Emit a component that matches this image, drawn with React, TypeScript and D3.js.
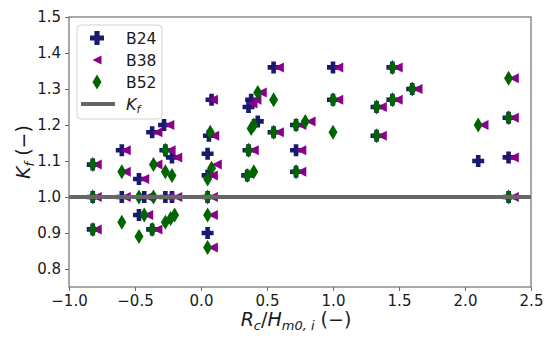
// @ts-nocheck
import React, { useEffect, useRef } from "react";
import * as d3 from "d3";

// B24 (navy filled plus)
const b24X = [-0.82, -0.82, -0.82, -0.6, -0.6, -0.47, -0.47, -0.43, -0.37, -0.37, -0.28, -0.27, -0.27, -0.22, -0.22, 0.05, 0.05, 0.05, 0.05, 0.06, 0.08, 0.35, 0.36, 0.36, 0.38, 0.43, 0.55, 0.55, 0.72, 0.72, 0.72, 1.0, 1.0, 1.33, 1.33, 1.45, 1.45, 1.6, 2.1, 2.33, 2.33, 2.33];
const b24Y = [1.09, 1.0, 0.91, 1.13, 1.0, 1.05, 0.95, 1.0, 1.18, 0.91, 1.2, 1.13, 1.0, 1.11, 1.0, 1.12, 1.06, 1.0, 0.9, 1.17, 1.27, 1.06, 1.13, 1.25, 1.27, 1.21, 1.36, 1.18, 1.2, 1.13, 1.07, 1.36, 1.27, 1.25, 1.17, 1.36, 1.27, 1.3, 1.1, 1.22, 1.11, 1.0];

// B38 (purple left triangle)
const b38X = [-0.79, -0.79, -0.79, -0.57, -0.57, -0.57, -0.43, -0.4, -0.4, -0.33, -0.33, -0.33, -0.24, -0.23, -0.24, -0.18, -0.18, 0.09, 0.1, 0.12, 0.09, 0.09, 0.09, 0.09, 0.4, 0.39, 0.42, 0.46, 0.59, 0.59, 0.76, 0.83, 0.76, 0.76, 1.04, 1.04, 1.37, 1.37, 1.49, 1.49, 1.64, 2.14, 2.37, 2.37, 2.37, 2.37];
const b38Y = [1.09, 1.0, 0.91, 1.13, 1.07, 1.0, 1.05, 0.95, 1.0, 1.18, 1.09, 0.91, 1.2, 1.13, 1.0, 1.11, 1.0, 1.27, 1.17, 1.09, 1.06, 1.0, 0.95, 0.86, 1.13, 1.26, 1.27, 1.29, 1.36, 1.18, 1.2, 1.21, 1.13, 1.07, 1.36, 1.27, 1.25, 1.17, 1.36, 1.27, 1.3, 1.2, 1.33, 1.22, 1.11, 1.0];

// B52 (green thin diamond)
const b52X = [-0.82, -0.82, -0.82, -0.6, -0.6, -0.47, -0.47, -0.43, -0.36, -0.36, -0.37, -0.27, -0.27, -0.22, -0.27, -0.23, -0.2, 0.05, 0.08, 0.07, 0.05, 0.05, 0.05, 0.35, 0.4, 0.36, 0.38, 0.4, 0.43, 0.55, 0.55, 0.72, 0.79, 0.72, 1.0, 1.0, 1.33, 1.33, 1.45, 1.45, 1.6, 2.1, 2.33, 2.33, 2.33];
const b52Y = [1.09, 1.0, 0.91, 1.07, 0.93, 1.0, 0.89, 0.95, 1.09, 1.0, 0.91, 1.13, 1.07, 1.06, 0.93, 0.94, 0.95, 1.05, 1.08, 1.18, 1.0, 0.95, 0.86, 1.06, 1.07, 1.13, 1.19, 1.2, 1.29, 1.27, 1.18, 1.2, 1.21, 1.07, 1.27, 1.18, 1.25, 1.17, 1.36, 1.27, 1.3, 1.2, 1.33, 1.22, 1.0];

const xTicks = [-1.0, -0.5, 0.0, 0.5, 1.0, 1.5, 2.0, 2.5];
const yTicks = [0.8, 0.9, 1.0, 1.1, 1.2, 1.3, 1.4, 1.5];
const kfLevel = 1.0;

// marker shapes
const plusPath = (s, a) =>
  `M${-a},${-s}L${a},${-s}L${a},${-a}L${s},${-a}L${s},${a}L${a},${a}L${a},${s}L${-a},${s}L${-a},${a}L${-s},${a}L${-s},${-a}L${-a},${-a}Z`;
const triPath = (r) => `M${-r},0L${r},${-r}L${r},${r}Z`;
const diaPath = (w, h) => `M0,${-h}L${w},0L0,${h}L${-w},0Z`;

function App() {
  const ref = useRef(null);

  useEffect(() => {
    document.body.style.margin = "0";
    const margin = { top: 17, right: 19, bottom: 53, left: 69 },
      width = 550 - margin.left - margin.right,
      height = 340 - margin.top - margin.bottom;

    const root = d3.select(ref.current);
    root.selectAll("*").remove();
    const svg = root
      .append("g")
      .attr("transform", "translate(" + margin.left + "," + margin.top + ")");

    const x = d3.scaleLinear().domain([-1.0, 2.5]).range([0, width]);
    const y = d3.scaleLinear().domain([0.75, 1.5]).range([height, 0]);

    const font = "DejaVu Sans, sans-serif";
    const spine = "#6e6e6e";

    // axes
    const xAxis = svg
      .append("g")
      .attr("transform", "translate(0," + height + ")")
      .call(d3.axisBottom(x).tickValues(xTicks).tickSize(4).tickPadding(4).tickFormat((d) => d3.format(".1f")(d).replace("-", "\u2212")));
    const yAxis = svg
      .append("g")
      .call(d3.axisLeft(y).tickValues(yTicks).tickSize(4).tickPadding(4).tickFormat(d3.format(".1f")));
    [xAxis, yAxis].forEach((g) => {
      g.select(".domain").remove();
      g.selectAll("line").attr("stroke", spine);
      g.selectAll("text").attr("font-family", font).attr("font-size", 15).attr("fill", "#1a1a1a");
    });

    // series
    const series = [
      { xs: b24X, ys: b24Y, color: "#191970", d: plusPath(6, 2.3) },
      { xs: b38X, ys: b38Y, color: "#8b008b", d: triPath(5) },
      { xs: b52X, ys: b52Y, color: "#006400", d: diaPath(4.5, 7.5) },
    ];
    series.forEach((s) => {
      svg
        .append("g")
        .selectAll("path")
        .data(s.xs.map((v, i) => [v, s.ys[i]]))
        .enter()
        .append("path")
        .attr("d", s.d)
        .attr("fill", s.color)
        .attr("transform", (p) => "translate(" + x(p[0]) + "," + y(p[1]) + ")");
    });

    // K_f line
    svg
      .append("line")
      .attr("x1", 0)
      .attr("x2", width)
      .attr("y1", y(kfLevel))
      .attr("y2", y(kfLevel))
      .attr("stroke", "#666")
      .attr("stroke-width", 4);

    // frame
    svg
      .append("rect")
      .attr("width", width)
      .attr("height", height)
      .attr("fill", "none")
      .attr("stroke", spine)
      .attr("stroke-width", 1.2);

    // legend
    const lg = svg.append("g").attr("transform", "translate(8,8)");
    lg.append("rect")
      .attr("width", 85)
      .attr("height", 94)
      .attr("rx", 4)
      .attr("fill", "white")
      .attr("fill-opacity", 0.8)
      .attr("stroke", "#d0d0d0");
    const items = [
      { label: "B24", color: "#191970", d: plusPath(7, 2.6) },
      { label: "B38", color: "#8b008b", d: triPath(4.5) },
      { label: "B52", color: "#006400", d: diaPath(4.5, 7.5) },
    ];
    items.forEach((it, i) => {
      const cy = 13 + i * 22;
      lg.append("path")
        .attr("d", it.d)
        .attr("fill", it.color)
        .attr("transform", "translate(20," + cy + ")");
      lg.append("text")
        .attr("x", 49)
        .attr("y", cy + 5.5)
        .attr("font-family", font)
        .attr("font-size", 15.5)
        .attr("fill", "#1a1a1a")
        .text(it.label);
    });
    lg.append("line")
      .attr("x1", 4)
      .attr("x2", 38)
      .attr("y1", 79)
      .attr("y2", 79)
      .attr("stroke", "#666")
      .attr("stroke-width", 4);
    const kt = lg.append("text").attr("x", 49).attr("y", 85).attr("font-family", font).attr("font-size", 16).attr("fill", "#1a1a1a");
    kt.append("tspan").attr("font-style", "italic").text("K");
    kt.append("tspan").attr("font-style", "italic").attr("font-size", 11).attr("dy", 3).text("f");

    // x label
    const xl = root
      .append("text")
      .attr("x", margin.left + width / 2 - 4)
      .attr("y", 326)
      .attr("text-anchor", "middle")
      .attr("font-family", font)
      .attr("font-size", 19)
      .attr("fill", "#1a1a1a");
    xl.append("tspan").attr("font-style", "italic").text("R");
    xl.append("tspan").attr("font-style", "italic").attr("font-size", 13).attr("dy", 4).text("c");
    xl.append("tspan").attr("dy", -4).text("/");
    xl.append("tspan").attr("font-style", "italic").text("H");
    xl.append("tspan").attr("font-style", "italic").attr("font-size", 13).attr("dy", 4).text("m0, i");
    xl.append("tspan").attr("dy", -4).text(" (\u2212)");

    // y label
    const yl = root
      .append("text")
      .attr("transform", "translate(30," + (margin.top + height / 2) + ") rotate(-90)")
      .attr("text-anchor", "middle")
      .attr("font-family", font)
      .attr("font-size", 19)
      .attr("fill", "#1a1a1a");
    yl.append("tspan").attr("font-style", "italic").text("K");
    yl.append("tspan").attr("font-style", "italic").attr("font-size", 13).attr("dy", 4).text("f");
    yl.append("tspan").attr("dy", -4).text(" (\u2212)");
  }, []);

  return <svg ref={ref} width={550} height={340} style={{ display: "block", background: "white" }}></svg>;
}

export default App;
